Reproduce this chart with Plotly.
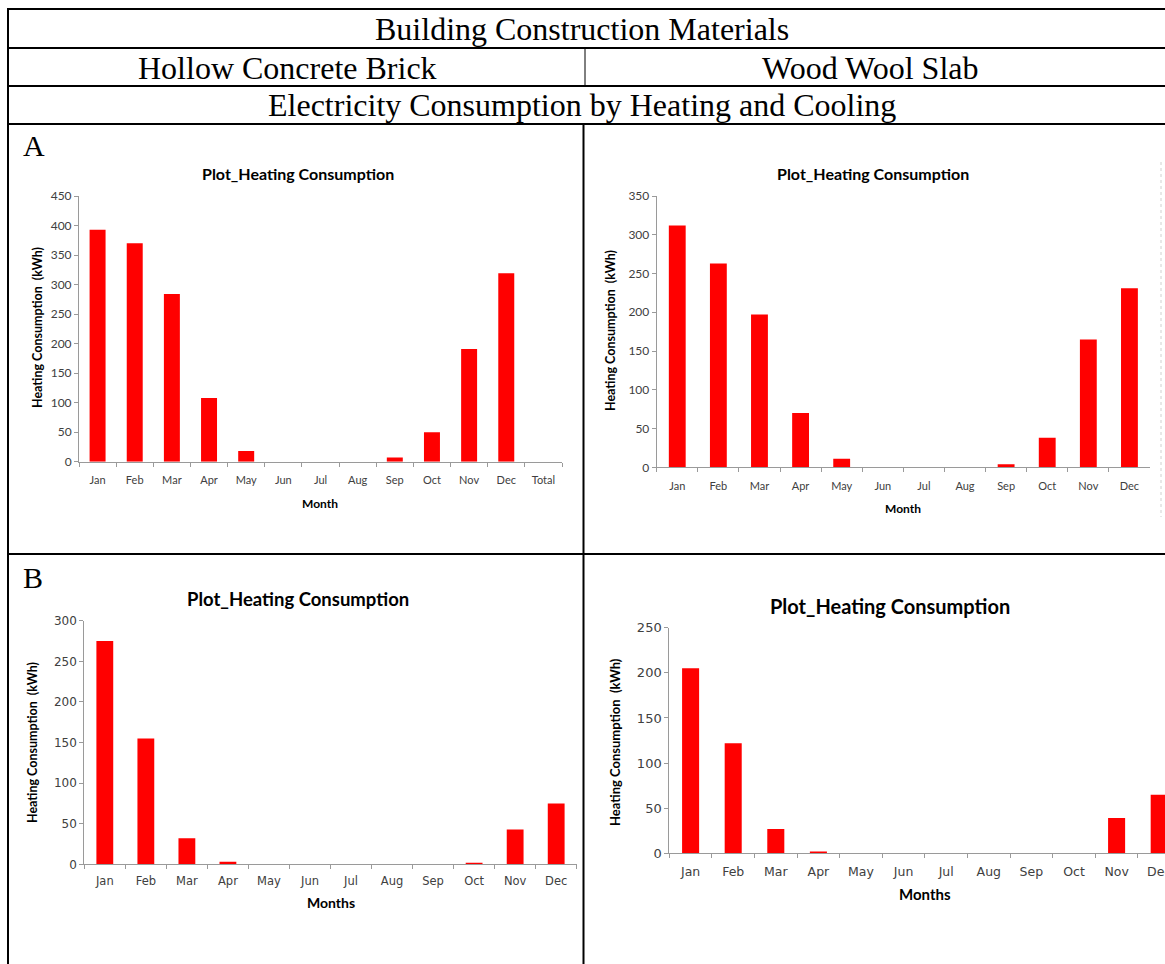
import plotly.graph_objects as go

# ---- data -------------------------------------------------------------
months = ["Jan", "Feb", "Mar", "Apr", "May", "Jun",
          "Jul", "Aug", "Sep", "Oct", "Nov", "Dec"]
months_total = months + ["Total"]

# Heating consumption (kWh), case A
hollow_brick_a = [393, 370, 284, 108, 18, 0, 0, 0, 7, 50, 191, 319, None]
wood_wool_a = [312, 263, 197, 70, 11, 0, 0, 0, 4, 38, 165, 231]

# Heating consumption (kWh), case B
hollow_brick_b = [275, 155, 32, 3, 0, 0, 0, 0, 0, 1, 43, 75]
wood_wool_b = [205, 122, 27, 2, 0, 0, 0, 0, 0, 0, 39, 65]

header_main = "Building Construction Materials"
material_names = ["Hollow Concrete Brick", "Wood Wool Slab"]
header_sub = "Electricity Consumption by Heating and Cooling"
chart_title = "Plot_Heating Consumption"
y_title = "Heating Consumption  (kWh)"

# ---- page geometry (pixels) ------------------------------------------
W, H = 1165, 964


def px(x):
    return x / W


def py(y):
    return 1 - y / H


BAR = "#FF0000"
AXIS = "#9A9A9A"
TXT = "#404040"
SERIF = "Liberation Serif"
SANS = "Lato"

fig = go.Figure()

# panel settings: x-span, y-span, y-max, categories, values, fonts
panels = [
    dict(x0=79, x1=562, y0=196, y1=461.7, ymax=450, cats=months_total,
         vals=hollow_brick_a, width=0.43, tfont=SANS, xsize=11, ysize=12,
         title_xy=(298, 173), title_size=16, xt="Month", xt_size=12,
         xt_xy=(320, 503), yt_xy=(37, 328), yt_size=12.5,
         xrng=None, standoff=8),
    dict(x0=656.7, x1=1150, y0=196, y1=467.3, ymax=350, cats=months,
         vals=wood_wool_a, width=0.41, tfont=SANS, xsize=11, ysize=12,
         title_xy=(873, 173), title_size=16, xt="Month", xt_size=12,
         xt_xy=(903, 508), yt_xy=(610, 331), yt_size=12.5,
         xrng=None, standoff=8),
    dict(x0=84.3, x1=576.7, y0=620.7, y1=864.3, ymax=300, cats=months,
         vals=hollow_brick_b, width=0.41, tfont="DejaVu Sans", xsize=11.5,
         ysize=12, title_xy=(298, 599), title_size=18.5, xt="Months",
         xt_size=14, xt_xy=(331, 902), yt_xy=(32, 743), yt_size=12.5,
         xrng=None, standoff=6),
    dict(x0=669.3, x1=1165, y0=627.7, y1=853.3, ymax=250, cats=months,
         vals=wood_wool_b, width=0.40, tfont="DejaVu Sans", xsize=12.5,
         ysize=13, title_xy=(890, 606), title_size=20, xt="Months",
         xt_size=15, xt_xy=(925, 894), yt_xy=(615, 742), yt_size=13,
         xrng=[-0.5, -0.5 + (1165 - 669.3) / 42.6], standoff=7),
]

annotations = []
layout_axes = {}

for i, p in enumerate(panels, start=1):
    xa = "x" if i == 1 else f"x{i}"
    ya = "y" if i == 1 else f"y{i}"
    fig.add_trace(go.Bar(
        x=p["cats"], y=p["vals"], width=p["width"],
        marker=dict(color=BAR, line=dict(width=0)),
        xaxis=xa, yaxis=ya, showlegend=False, hoverinfo="x+y",
    ))
    n = len(p["cats"])
    layout_axes[f"xaxis{'' if i == 1 else i}"] = dict(
        domain=[px(p["x0"]), px(p["x1"])],
        anchor=ya, type="category", categoryorder="array",
        categoryarray=p["cats"],
        range=p["xrng"] if p["xrng"] else [-0.5, n - 0.5],
        showline=True, linecolor=AXIS, linewidth=1,
        ticks="outside", tickson="boundaries", ticklen=4, tickcolor=AXIS,
        showgrid=False, zeroline=False,
        tickfont=dict(family=p["tfont"], size=p["xsize"], color=TXT),
        ticklabelstandoff=p["standoff"], automargin=False,
    )
    layout_axes[f"yaxis{'' if i == 1 else i}"] = dict(
        domain=[py(p["y1"]), py(p["y0"])],
        anchor=xa, range=[0, p["ymax"]], dtick=50,
        showline=True, linecolor=AXIS, linewidth=1,
        ticks="outside", ticklen=4, tickcolor=AXIS,
        showgrid=False, zeroline=False,
        tickfont=dict(family=p["tfont"], size=p["ysize"], color=TXT),
        automargin=False,
    )
    # chart title
    tx, ty = p["title_xy"]
    annotations.append(dict(
        x=px(tx), y=py(ty), xref="paper", yref="paper", showarrow=False,
        text=f"<b>{chart_title}</b>", xanchor="center", yanchor="middle",
        font=dict(family=SANS, size=p["title_size"], color="#000000"),
    ))
    # x-axis title
    ax_, ay_ = p["xt_xy"]
    annotations.append(dict(
        x=px(ax_), y=py(ay_), xref="paper", yref="paper", showarrow=False,
        text=f"<b>{p['xt']}</b>", xanchor="center", yanchor="middle",
        font=dict(family=SANS, size=p["xt_size"], color="#000000"),
    ))
    # y-axis title
    yx, yy = p["yt_xy"]
    annotations.append(dict(
        x=px(yx), y=py(yy), xref="paper", yref="paper", showarrow=False,
        text=f"<b>{y_title}</b>", textangle=-90,
        xanchor="center", yanchor="middle",
        font=dict(family=SANS, size=p["yt_size"], color="#000000"),
    ))

# ---- table header text -------------------------------------------------
def serif_label(text, x, y, size=32, xanchor="center"):
    annotations.append(dict(
        x=px(x), y=py(y), xref="paper", yref="paper", showarrow=False,
        text=text, xanchor=xanchor, yanchor="middle",
        font=dict(family=SERIF, size=size, color="#000000"),
    ))


serif_label(header_main, 582, 29)
serif_label(material_names[0], 287, 68)
serif_label(material_names[1], 870, 68)
serif_label(header_sub, 582, 105)
serif_label("A", 21, 145, size=30, xanchor="left")
serif_label("B", 21, 577, size=30, xanchor="left")

# ---- table rules ---------------------------------------------------------
shapes = []


def rule(x0, y0, x1, y1, w=2, color="#000000", dash="solid"):
    shapes.append(dict(
        type="line", xref="paper", yref="paper",
        x0=px(x0), y0=py(y0), x1=px(x1), y1=py(y1),
        line=dict(color=color, width=w, dash=dash),
    ))


for yy in (9, 48, 86, 124, 554):
    rule(7, yy, W, yy)
rule(8, 8, 8, H)                 # left border
rule(585, 48, 585, 86, w=1)      # divider between material names
rule(583.5, 124, 583.5, H)       # divider between chart columns
rule(1161, 162, 1161, 517, w=1, color="#D0D0D0", dash="dot")

fig.update_layout(
    width=W, height=H,
    margin=dict(l=0, r=0, t=0, b=0),
    paper_bgcolor="#FFFFFF", plot_bgcolor="#FFFFFF",
    showlegend=False,
    annotations=annotations, shapes=shapes,
    **layout_axes,
)

fig.write_html("out.html")
